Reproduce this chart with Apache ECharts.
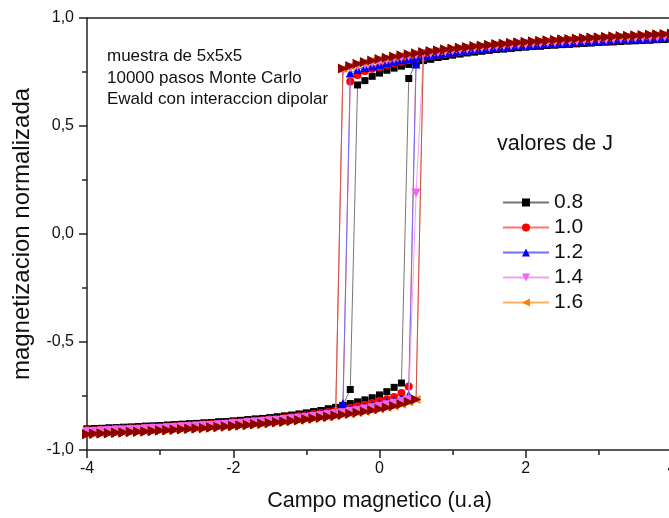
<!DOCTYPE html>
<html>
<head>
<meta charset="utf-8">
<script src="https://cdn.jsdelivr.net/npm/echarts@6/dist/echarts.min.js"></script>
<style>html,body{margin:0;padding:0;background:#fff;}#c{width:669px;height:518px;}</style>
</head>
<body>
<div id="c"></div>
<script>
const fieldX = [-4,-3.9,-3.8,-3.7,-3.6,-3.5,-3.4,-3.3,-3.2,-3.1,-3,-2.9,-2.8,-2.7,-2.6,-2.5,-2.4,-2.3,-2.2,-2.1,-2,-1.9,-1.8,-1.7,-1.6,-1.5,-1.4,-1.3,-1.2,-1.1,-1,-0.9,-0.8,-0.7,-0.6,-0.5,-0.4,-0.3,-0.2,-0.1,0,0.1,0.2,0.3,0.4,0.5,0.6,0.7,0.8,0.9,1,1.1,1.2,1.3,1.4,1.5,1.6,1.7,1.8,1.9,2,2.1,2.2,2.3,2.4,2.5,2.6,2.7,2.8,2.9,3,3.1,3.2,3.3,3.4,3.5,3.6,3.7,3.8,3.9,4];

const seriesNames = ['0.8','1.0','1.2','1.4','1.6'];
const xTicks = [-4,-2,0,2,4];
const yTicks = [-1,-0.5,0,0.5,1];

// field decreasing branch (values listed for field from -4 to 4)
const j08Down = [-.903,-.901,-.900,-.898,-.897,-.895,-.894,-.892,-.890,-.889,
 -.887,-.885,-.883,-.881,-.879,-.877,-.875,-.873,-.870,-.868,
 -.866,-.863,-.860,-.857,-.854,-.851,-.847,-.843,-.839,-.834,
 -.829,-.823,-.817,-.810,-.803,-.794,-.720,.690,.710,.730,
 .745,.758,.768,.777,.785,.794,.803,.810,.817,.823,
 .829,.834,.839,.843,.847,.851,.854,.857,.860,.863,
 .866,.868,.870,.873,.875,.877,.879,.881,.883,.885,
 .887,.889,.890,.892,.894,.895,.897,.898,.900,.901,
 .903];
// field increasing branch
const j08Up = [-.903,-.901,-.900,-.898,-.897,-.895,-.894,-.892,-.890,-.889,
 -.887,-.885,-.883,-.881,-.879,-.877,-.875,-.873,-.870,-.868,
 -.866,-.863,-.860,-.857,-.854,-.851,-.847,-.843,-.839,-.834,
 -.829,-.823,-.817,-.810,-.803,-.794,-.785,-.777,-.768,-.758,
 -.745,-.730,-.710,-.690,.720,.794,.803,.810,.817,.823,
 .829,.834,.839,.843,.847,.851,.854,.857,.860,.863,
 .866,.868,.870,.873,.875,.877,.879,.881,.883,.885,
 .887,.889,.890,.892,.894,.895,.897,.898,.900,.901,
 .903];

const j10Down = [-.909,-.908,-.906,-.905,-.903,-.902,-.900,-.899,-.897,-.895,
 -.894,-.892,-.890,-.888,-.886,-.884,-.882,-.880,-.878,-.876,
 -.873,-.871,-.868,-.865,-.862,-.859,-.856,-.852,-.848,-.844,
 -.840,-.835,-.830,-.825,-.819,-.813,.706,.736,.755,.765,
 .772,.782,.790,.798,.806,.813,.819,.825,.830,.835,
 .840,.844,.848,.852,.856,.859,.862,.865,.868,.871,
 .873,.876,.878,.880,.882,.884,.886,.888,.890,.892,
 .894,.895,.897,.899,.900,.902,.903,.905,.906,.908,
 .909];
const j10Up = [-.909,-.908,-.906,-.905,-.903,-.902,-.900,-.899,-.897,-.895,
 -.894,-.892,-.890,-.888,-.886,-.884,-.882,-.880,-.878,-.876,
 -.873,-.871,-.868,-.865,-.862,-.859,-.856,-.852,-.848,-.844,
 -.840,-.835,-.830,-.825,-.819,-.813,-.806,-.798,-.790,-.782,
 -.772,-.765,-.755,-.736,-.706,.813,.819,.825,.830,.835,
 .840,.844,.848,.852,.856,.859,.862,.865,.868,.871,
 .873,.876,.878,.880,.882,.884,.886,.888,.890,.892,
 .894,.895,.897,.899,.900,.902,.903,.905,.906,.908,
 .909];

const j12Down = [-.912,-.911,-.909,-.908,-.906,-.905,-.903,-.902,-.900,-.898,
 -.897,-.895,-.893,-.891,-.889,-.887,-.885,-.883,-.881,-.879,
 -.876,-.874,-.871,-.868,-.865,-.862,-.859,-.856,-.852,-.848,
 -.844,-.840,-.835,-.830,-.825,-.785,.745,.762,.771,.778,
 .785,.793,.800,.807,.813,.819,.825,.830,.835,.840,
 .844,.848,.852,.856,.859,.862,.865,.868,.871,.874,
 .876,.879,.881,.883,.885,.887,.889,.891,.893,.895,
 .897,.898,.900,.902,.903,.905,.906,.908,.909,.911,
 .912];
const j12Up = [-.912,-.911,-.909,-.908,-.906,-.905,-.903,-.902,-.900,-.898,
 -.897,-.895,-.893,-.891,-.889,-.887,-.885,-.883,-.881,-.879,
 -.876,-.874,-.871,-.868,-.865,-.862,-.859,-.856,-.852,-.848,
 -.844,-.840,-.835,-.830,-.825,-.819,-.813,-.807,-.800,-.793,
 -.785,-.778,-.771,-.762,-.745,.787,.825,.830,.835,.840,
 .844,.848,.852,.856,.859,.862,.865,.868,.871,.874,
 .876,.879,.881,.883,.885,.887,.889,.891,.893,.895,
 .897,.898,.900,.902,.903,.905,.906,.908,.909,.911,
 .912];

const j14Down = [-.915,-.914,-.912,-.911,-.909,-.908,-.906,-.905,-.903,-.901,
 -.900,-.898,-.896,-.894,-.892,-.890,-.888,-.886,-.884,-.882,
 -.879,-.877,-.874,-.872,-.869,-.866,-.863,-.860,-.856,-.853,
 -.849,-.845,-.841,-.837,-.832,.755,.767,.776,.783,.790,
 .797,.804,.810,.816,.822,.827,.832,.837,.841,.845,
 .849,.853,.856,.860,.863,.866,.869,.872,.874,.877,
 .879,.882,.884,.886,.888,.890,.892,.894,.896,.898,
 .900,.901,.903,.905,.906,.908,.909,.911,.912,.914,
 .915];
const j14Up = [-.915,-.914,-.912,-.911,-.909,-.908,-.906,-.905,-.903,-.901,
 -.900,-.898,-.896,-.894,-.892,-.890,-.888,-.886,-.884,-.882,
 -.879,-.877,-.874,-.872,-.869,-.866,-.863,-.860,-.856,-.853,
 -.849,-.845,-.841,-.837,-.832,-.827,-.822,-.816,-.810,-.804,
 -.797,-.790,-.783,-.776,-.767,.190,.832,.837,.841,.845,
 .849,.853,.856,.860,.863,.866,.869,.872,.874,.877,
 .879,.882,.884,.886,.888,.890,.892,.894,.896,.898,
 .900,.901,.903,.905,.906,.908,.909,.911,.912,.914,
 .915];

const j16Down = [-.927,-.925,-.924,-.922,-.920,-.919,-.917,-.915,-.914,-.912,
 -.910,-.908,-.906,-.904,-.902,-.900,-.898,-.896,-.893,-.891,
 -.889,-.886,-.884,-.881,-.878,-.875,-.872,-.869,-.865,-.862,
 -.858,-.854,-.850,-.846,-.842,.766,.778,.788,.796,.803,
 .810,.816,.822,.827,.832,.837,.842,.846,.850,.854,
 .858,.862,.865,.869,.872,.875,.878,.881,.884,.886,
 .889,.891,.893,.896,.898,.900,.902,.904,.906,.908,
 .910,.912,.914,.915,.917,.919,.920,.922,.924,.925,
 .927];
const j16Up = [-.927,-.925,-.924,-.922,-.920,-.919,-.917,-.915,-.914,-.912,
 -.910,-.908,-.906,-.904,-.902,-.900,-.898,-.896,-.893,-.891,
 -.889,-.886,-.884,-.881,-.878,-.875,-.872,-.869,-.865,-.862,
 -.858,-.854,-.850,-.846,-.842,-.837,-.832,-.827,-.822,-.816,
 -.810,-.803,-.796,-.788,-.778,-.766,.842,.846,.850,.854,
 .858,.862,.865,.869,.872,.875,.878,.881,.884,.886,
 .889,.891,.893,.896,.898,.900,.902,.904,.906,.908,
 .910,.912,.914,.915,.917,.919,.920,.922,.924,.925,
 .927];

function loop(xs, down, up) {
  const out = [];
  for (let i = xs.length - 1; i >= 0; i--) out.push([xs[i], down[i]]);
  for (let i = 0; i < xs.length; i++) out.push([xs[i], up[i]]);
  return out;
}

const FONT = '"Liberation Sans", Arial, sans-serif';
const chart = echarts.init(document.getElementById('c'), null, {renderer: 'canvas'});

function mk(name, down, up, symbol, size, rot, color, lineColor, z) {
  return {
    name: name, type: 'line', data: loop(fieldX, down, up),
    symbol: symbol, symbolSize: size, symbolRotate: rot, showAllSymbol: true,
    itemStyle: {color: color}, lineStyle: {color: lineColor, width: 1},
    z: z, animation: false
  };
}

const option = {
  animation: false,
  backgroundColor: '#fff',
  grid: {left: 87, right: -3, top: 18, bottom: 68, outerBoundsMode: 'none', containLabel: false},
  title: [
    {text: 'muestra de 5x5x5\n10000 pasos Monte Carlo\nEwald con interaccion dipolar',
     left: 102, top: 41,
     textStyle: {fontFamily: FONT, fontSize: 17, fontWeight: 'normal', lineHeight: 21.5, color: '#111'}},
    {text: 'valores de J', left: 492, top: 128,
     textStyle: {fontFamily: FONT, fontSize: 21.5, fontWeight: 'normal', color: '#111'}}
  ],
  legend: {
    data: seriesNames, orient: 'vertical', left: 497, top: 187,
    itemWidth: 46, itemHeight: 10, itemGap: 4,
    textStyle: {fontFamily: FONT, fontSize: 21, color: '#111'}
  },
  xAxis: [{
    type: 'value', min: -4, max: 4, interval: 2,
    name: 'Campo magnetico (u.a)', nameLocation: 'middle', nameGap: 40,
    nameTextStyle: {fontFamily: FONT, fontSize: 21.5, color: '#111'},
    axisLine: {show: true, onZero: false, lineStyle: {color: '#222', width: 1.5}},
    axisTick: {show: true, inside: false, length: 8, lineStyle: {color: '#222', width: 1.5}},
    minorTick: {show: true, splitNumber: 2, length: 5, lineStyle: {color: '#222', width: 1.5}},
    splitLine: {show: false},
    axisLabel: {fontFamily: FONT, fontSize: 16, color: '#111', margin: 11, formatter: v => String(v)}
  }, {
    type: 'value', position: 'top', min: -4, max: 4,
    axisLine: {show: true, onZero: false, lineStyle: {color: '#222', width: 1.5}},
    axisTick: {show: false}, axisLabel: {show: false}, splitLine: {show: false}
  }],
  yAxis: [{
    type: 'value', min: -1, max: 1, interval: 0.5,
    name: 'magnetizacion normalizada', nameLocation: 'middle', nameGap: 53,
    nameTextStyle: {fontFamily: FONT, fontSize: 24, color: '#111'},
    axisLine: {show: true, onZero: false, lineStyle: {color: '#222', width: 1.5}},
    axisTick: {show: true, inside: false, length: 8, lineStyle: {color: '#222', width: 1.5}},
    minorTick: {show: true, splitNumber: 2, length: 5, lineStyle: {color: '#222', width: 1.5}},
    splitLine: {show: false},
    axisLabel: {fontFamily: FONT, fontSize: 16, color: '#111', margin: 13,
      formatter: v => v.toFixed(1).replace('.', ',')}
  }],
  series: [
    mk('0.8', j08Down, j08Up, 'rect', 7, 0, '#000000', '#777777', 2),
    mk('1.0', j10Down, j10Up, 'circle', 8, 0, '#ff0000', '#ff7070', 3),
    mk('1.2', j12Down, j12Up, 'triangle', 9, 0, '#0000ff', '#7070ff', 4),
    mk('1.4', j14Down, j14Up, 'triangle', 9, 180, '#ee66ee', '#f0a0f0', 5),
    mk('1.6', j16Down, j16Up, 'triangle', 9, 90, '#ff8000', '#ffb060', 6),
    mk('1.6 ', j16Down, j16Up, 'triangle', 10, -90, '#8b0000', '#d05050', 7)
  ]
};
chart.setOption(option);
</script>
</body>
</html>
